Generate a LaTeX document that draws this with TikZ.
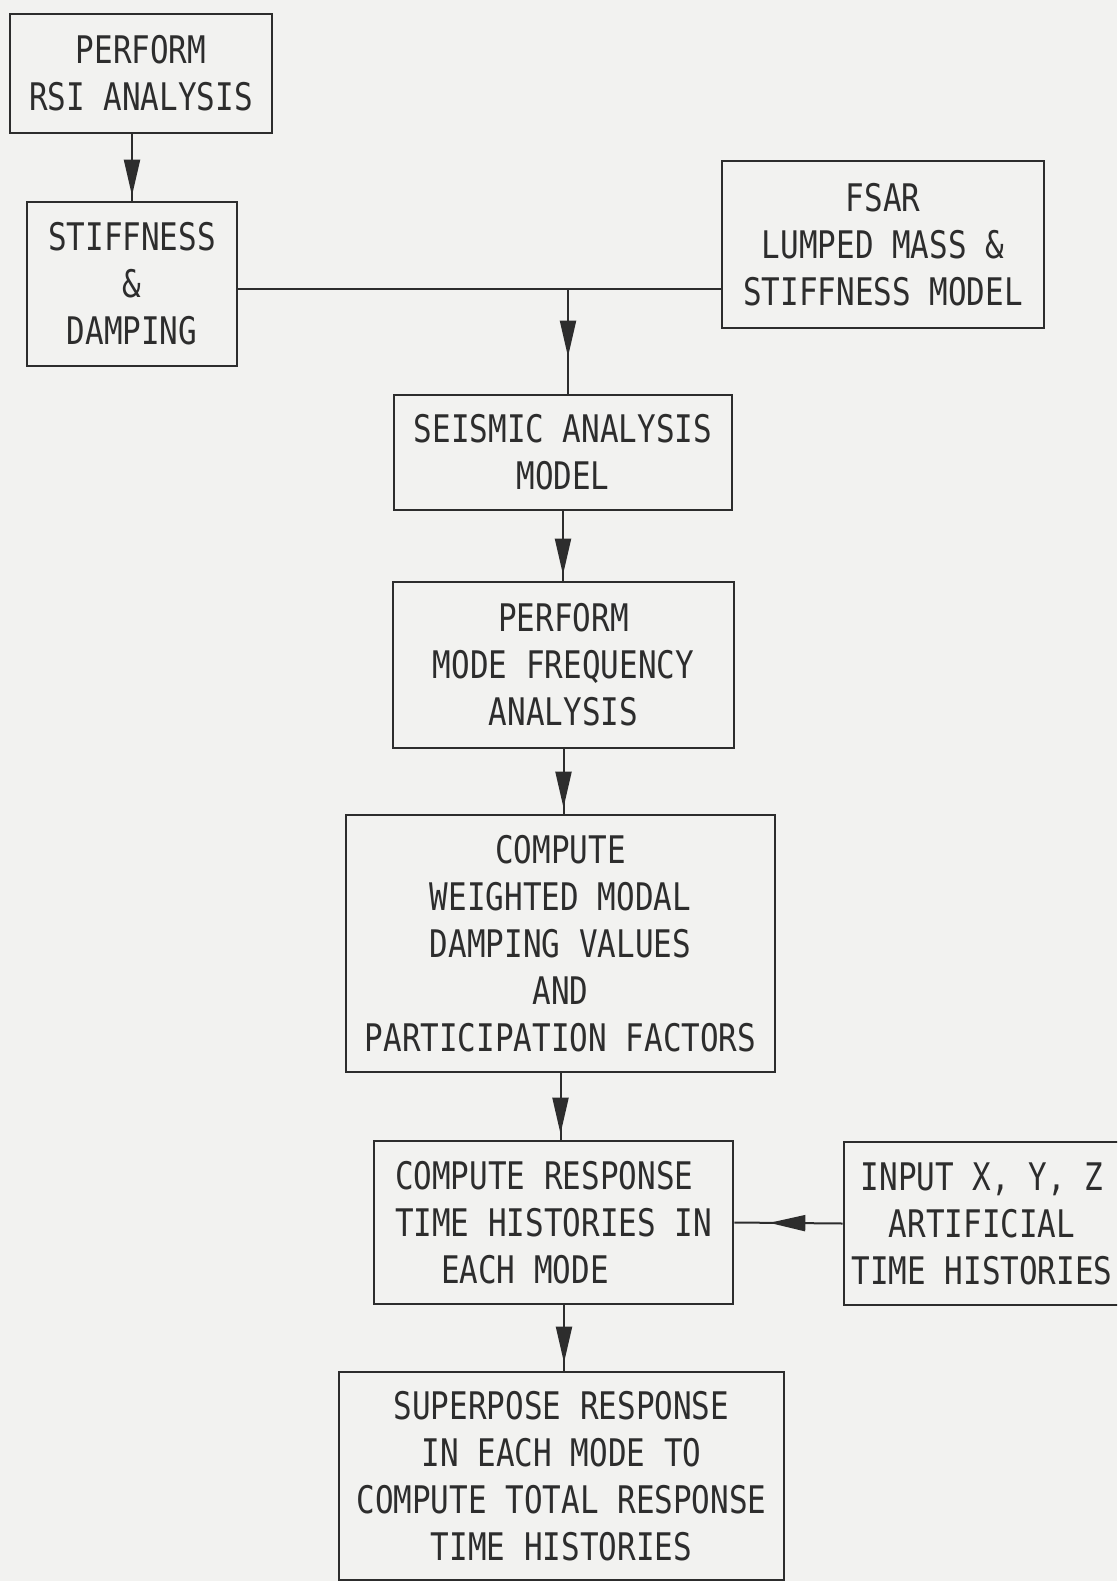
\documentclass[tikz,border=0pt]{standalone}
\usepackage{fontspec}
\setmonofont[FakeStretch=0.815]{DejaVu Sans Mono}
\usetikzlibrary{arrows.meta,decorations.markings}
\definecolor{paper}{RGB}{242,242,240}
\definecolor{ink}{RGB}{45,45,45}
\begin{document}
\begin{tikzpicture}[x=1pt,y=-1pt,
  box/.style={draw=ink, line width=2.6pt, inner sep=2pt, align=center, text=ink,
              font=\ttfamily\fontsize{38}{47}\selectfont},
  conn/.style={draw=ink, line width=2pt},
  tipat/.style={postaction={decorate}, decoration={markings,
      mark=at position #1 with {\arrow[ink]{Triangle[length=36pt,width=16pt]}}}}
]
\useasboundingbox (0,0) rectangle (1117,1581);
\clip (0,0) rectangle (1117,1581);
\fill[paper] (0,0) rectangle (1117,1581);

\node[box, minimum width=262pt, minimum height=119pt] (rsi)   at (141,73.5)   {PERFORM\\RSI ANALYSIS};
\node[box, minimum width=210pt, minimum height=164pt] (stiff) at (132,284)    {STIFFNESS\\\&\\DAMPING};
\node[box, minimum width=322pt, minimum height=167pt] (fsar)  at (883,244.5)  {FSAR\\LUMPED MASS \&\\STIFFNESS MODEL};
\node[box, minimum width=338pt, minimum height=115pt] (seis)  at (563,452.5)  {SEISMIC ANALYSIS\\MODEL};
\node[box, minimum width=341pt, minimum height=166pt] (mode)  at (563.5,665)  {PERFORM\\MODE FREQUENCY\\ANALYSIS};
\node[box, minimum width=429pt, minimum height=257pt] (weigh) at (560.5,943.5) {COMPUTE\\WEIGHTED MODAL\\DAMPING VALUES\\AND\\PARTICIPATION FACTORS};
\node[box, align=left, minimum width=359pt, minimum height=163pt] (resp) at (553.5,1222.5) {COMPUTE RESPONSE\\TIME HISTORIES IN\\\hspace*{46pt}EACH MODE};
\node[box, minimum width=276pt, minimum height=163pt] (input) at (982,1223.5)  {INPUT X, Y, Z\\ARTIFICIAL\\TIME HISTORIES};
\node[box, minimum width=445pt, minimum height=208pt] (sup)   at (561.5,1476) {SUPERPOSE RESPONSE\\IN EACH MODE TO\\COMPUTE TOTAL RESPONSE\\TIME HISTORIES};

\coordinate (j) at (568,289);
\coordinate (c5) at (564,0);

\draw[conn, tipat=-5pt] (stiff.north |- rsi.south) -- (stiff.north);
\draw[conn] (stiff.east |- j) -- (fsar.west |- j);
\draw[conn, tipat=-37pt] (j) -- (j |- seis.north);
\draw[conn, tipat=-6pt] (seis.south) -- (seis.south |- mode.north);
\draw[conn, tipat=-6pt] (mode.south) -- (mode.south |- weigh.north);
\draw[conn, tipat=-6pt] (weigh.south) -- (weigh.south |- resp.north);
\draw[conn, tipat=-8pt] (c5 |- resp.south) -- (c5 |- sup.north);
\draw[conn, tipat=-35pt] (input.west) -- (resp.east);
\end{tikzpicture}
\end{document}
